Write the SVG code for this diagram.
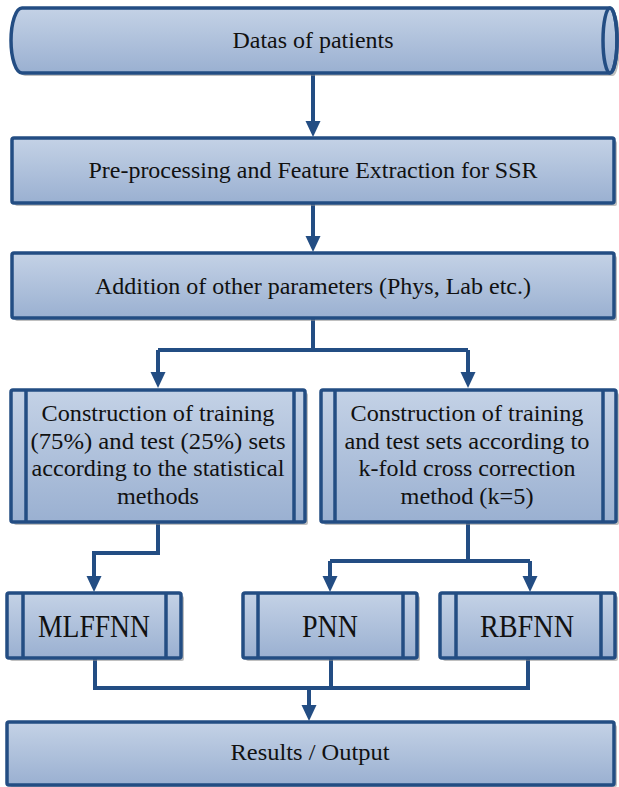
<svg xmlns="http://www.w3.org/2000/svg" width="619" height="787" viewBox="0 0 619 787">
<style>
.box{fill:url(#g);stroke:#234D83;stroke-width:3.5;stroke-linejoin:round}
.sh{fill:#8c8c8c;opacity:0.55}
.in{stroke:#234D83;stroke-width:3.5;fill:none}
.t{font-family:"Liberation Serif","Times New Roman",serif;font-size:23px;fill:#111;text-anchor:middle}
.big{font-size:31px}
.c{stroke:#234D83;stroke-width:4;fill:none;stroke-linejoin:miter}
.a{stroke:#234D83;stroke-width:4;fill:none;marker-end:url(#ah)}
</style>
<defs>
<linearGradient id="g" x1="0" y1="0" x2="0" y2="1">
<stop offset="0" stop-color="#C4D2E6"/>
<stop offset="1" stop-color="#9AB0D1"/>
</linearGradient>
<marker id="ah" markerUnits="userSpaceOnUse" markerWidth="16" markerHeight="16" viewBox="0 0 16 16" refX="9" refY="8" orient="auto">
<path d="M0,0.5 L16,8 L0,15.5 z" fill="#234D83"/>
</marker>
</defs>
<rect width="619" height="787" fill="#fff"/>

<g id="connectors">
<path class="a" d="M313,74 V130"/>
<path class="a" d="M313,203 V245"/>
<path class="c" d="M313,319 V350 M158,350 H468"/>
<path class="a" d="M158,350 V381"/>
<path class="a" d="M468,350 V381"/>
<path class="a" d="M158,523 V553 H94 V585"/>
<path class="c" d="M468,523 V561 M330,561 H530"/>
<path class="a" d="M330,561 V585"/>
<path class="a" d="M530,561 V585"/>
<path class="c" d="M95,659 V688 H528 V659 M331,659 V688"/>
<path class="a" d="M309,688 V714"/>
</g>

<g id="n1">
<path class="sh" d="M25,11 H613 A7,32.5 0 0 1 613,76 H25 A11,32.5 0 0 1 25,11 Z"/>
<path class="box" d="M22,8 H610 A7,32.5 0 0 1 610,73 H22 A11,32.5 0 0 1 22,8 Z"/>
<ellipse cx="610" cy="40.5" rx="7" ry="32.5" fill="none" stroke="#234D83" stroke-width="3.5"/>
<text class="t" x="313" y="48" textLength="161" lengthAdjust="spacingAndGlyphs">Datas of patients</text>
</g>

<g id="n2">
<rect class="sh" x="15" y="141" width="602" height="65" rx="2"/>
<rect class="box" x="12" y="138" width="602" height="65" rx="2"/>
<text class="t" x="313" y="178" textLength="449" lengthAdjust="spacingAndGlyphs">Pre-processing and Feature Extraction for SSR</text>
</g>

<g id="n3">
<rect class="sh" x="15" y="256" width="602" height="65" rx="2"/>
<rect class="box" x="12" y="253" width="602" height="65" rx="2"/>
<text class="t" x="313" y="294" textLength="436" lengthAdjust="spacingAndGlyphs">Addition of other parameters (Phys, Lab etc.)</text>
</g>

<g id="n4">
<rect class="sh" x="14" y="393" width="294" height="132" rx="2"/>
<rect class="box" x="11" y="390" width="294" height="132" rx="2"/>
<path class="in" d="M26,390 V522 M294,390 V522"/>
<text class="t" x="158" y="421" textLength="233" lengthAdjust="spacingAndGlyphs">Construction of training</text>
<text class="t" x="158" y="449" textLength="255" lengthAdjust="spacingAndGlyphs">(75%) and test (25%) sets</text>
<text class="t" x="158" y="476" textLength="253" lengthAdjust="spacingAndGlyphs">according to the statistical</text>
<text class="t" x="158" y="504" textLength="82" lengthAdjust="spacingAndGlyphs">methods</text>
</g>

<g id="n5">
<rect class="sh" x="324" y="393" width="295" height="132" rx="2"/>
<rect class="box" x="321" y="390" width="295" height="132" rx="2"/>
<path class="in" d="M335,390 V522 M603,390 V522"/>
<text class="t" x="467" y="421" textLength="233" lengthAdjust="spacingAndGlyphs">Construction of training</text>
<text class="t" x="467" y="449" textLength="245" lengthAdjust="spacingAndGlyphs">and test sets according to</text>
<text class="t" x="467" y="476" textLength="217" lengthAdjust="spacingAndGlyphs">k-fold cross correction</text>
<text class="t" x="467" y="504" textLength="133" lengthAdjust="spacingAndGlyphs">method (k=5)</text>
</g>

<g id="n6">
<rect class="sh" x="10" y="596" width="174" height="65" rx="2"/>
<rect class="box" x="7" y="593" width="174" height="65" rx="2"/>
<path class="in" d="M23,593 V658 M166,593 V658"/>
<text class="t big" x="94" y="637" textLength="112" lengthAdjust="spacingAndGlyphs">MLFFNN</text>
</g>

<g id="n7">
<rect class="sh" x="246" y="596" width="174" height="65" rx="2"/>
<rect class="box" x="243" y="593" width="174" height="65" rx="2"/>
<path class="in" d="M258,593 V658 M403,593 V658"/>
<text class="t big" x="330" y="637" textLength="56" lengthAdjust="spacingAndGlyphs">PNN</text>
</g>

<g id="n8">
<rect class="sh" x="443" y="596" width="175" height="65" rx="2"/>
<rect class="box" x="440" y="593" width="175" height="65" rx="2"/>
<path class="in" d="M456,593 V658 M601,593 V658"/>
<text class="t big" x="527" y="637" textLength="94" lengthAdjust="spacingAndGlyphs">RBFNN</text>
</g>

<g id="n9">
<rect class="sh" x="10" y="725" width="607" height="62" rx="2"/>
<rect class="box" x="7" y="722" width="607" height="63" rx="2"/>
<text class="t" x="310" y="760" textLength="159" lengthAdjust="spacingAndGlyphs">Results / Output</text>
</g>
</svg>
